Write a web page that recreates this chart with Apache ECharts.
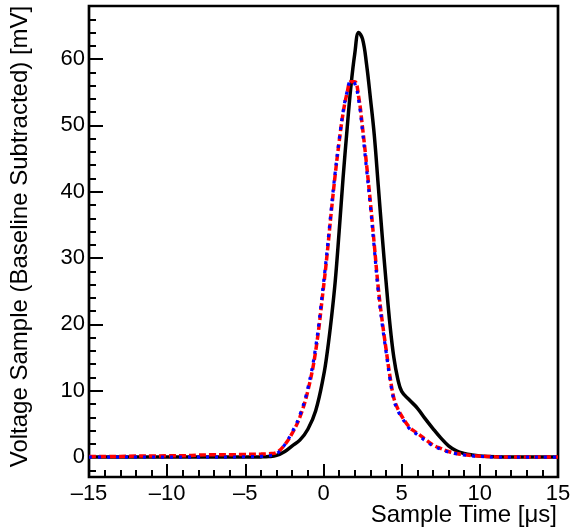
<!DOCTYPE html>
<html><head><meta charset="utf-8">
<script src="https://cdn.jsdelivr.net/npm/echarts@6/dist/echarts.min.js"></script>
<style>html,body{margin:0;padding:0;background:#fff}#c{width:583px;height:529px}</style>
</head><body><div id="c"></div>
<script>
// Sample time [µs]
const time = [-15,-14,-13,-12,-11,-10,-9,-8,-7,-6,-5,-4,-3.5,-3,-2.5,-2,-1.5,-1,-0.5,
  0,0.25,0.5,0.75,1,1.25,1.5,1.75,2,2.25,2.5,2.75,3,3.25,3.5,3.75,4,4.25,4.5,4.75,
  5,5.5,6,6.5,7,7.5,8,8.5,9,9.5,10,11,12,13,14,15];
// Black solid
const solidBlack = [0,0,0,0,0,0,0,0,0,0,0,0.03,0.08,0.25,0.8,1.7,2.6,4.2,7.0,
  12.2,16,20.8,26.5,34,42,49.2,55.8,60.8,64,63,59.3,54.1,48.5,41,33.5,26.5,20,15,11.8,
  9.9,8.6,7.4,5.8,4.3,2.9,1.7,0.95,0.55,0.32,0.18,0.05,0,0,0,0];
// Red dashed
const dashedRed = [0.1,0.1,0.1,0.15,0.15,0.2,0.2,0.3,0.35,0.35,0.4,0.45,0.5,0.7,1.8,3.6,6.1,10,16,
  25.6,31,37,42.6,47.5,51.8,54.8,56.6,56.6,54.3,49.6,44.2,38.4,32,25.6,20.6,16.3,12.2,8.9,7.3,
  6.2,4.5,3.6,2.7,1.85,1.3,0.85,0.55,0.38,0.22,0.15,0.05,0,0,0,0];
// Blue dotted
const dottedBlue = [0,0,0,0,0,0,0,0,0,0,0.05,0.1,0.2,0.5,1.8,3.8,6.4,10.4,16.6,
  26.2,31.6,37.5,43,47.8,52,55,56.7,56.3,53.8,49,43.5,37.8,31.4,25,20.1,15.9,11.8,8.6,7,
  6,4.3,3.4,2.5,1.7,1.2,0.75,0.5,0.32,0.18,0.1,0,0,0,0,0];
const yMajorTicks = [0,10,20,30,40,50,60];
const yMinorTicks = [-2,2,4,6,8,12,14,16,18,22,24,26,28,32,34,36,38,42,44,46,48,52,54,56,58,62,64,66];

const pairs = ys => time.map((t,i) => [t, ys[i]]);
const FONT = 'Liberation Sans';
const chart = echarts.init(document.getElementById('c'), null, {renderer:'canvas'});
chart.setOption({
  animation: false,
  backgroundColor: '#fff',
  grid: {left: 89, right: 25, top: 6, bottom: 52, show: true, borderColor: '#000', borderWidth: 2.7,
    backgroundColor: 'transparent', containLabel: false, outerBoundsMode: 'none'},
  xAxis: {
    type: 'value', min: -15, max: 15, interval: 5,
    axisLine: {show: false, onZero: false},
    axisTick: {show: true, inside: true, length: 13, lineStyle: {color: '#000', width: 2}},
    minorTick: {show: true, splitNumber: 5, length: 7, lineStyle: {color: '#000', width: 2}},
    splitLine: {show: false}, minorSplitLine: {show: false},
    axisLabel: {color: '#000', fontFamily: FONT, fontSize: 22, margin: 6,
      formatter: v => v < 0 ? '\u2013' + Math.abs(v) : String(v)},
    name: 'Sample Time [\u03bcs]', nameLocation: 'end', nameGap: -1, nameMoveOverlap: false,
    nameTextStyle: {color: '#000', fontFamily: FONT, fontSize: 24, align: 'right', verticalAlign: 'top', padding: [26, 0, 0, 0]}
  },
  yAxis: [{
    type: 'value', min: -3, max: 68, position: 'left',
    axisLine: {show: false, onZero: false},
    axisTick: {show: true, inside: true, length: 14, customValues: yMajorTicks, lineStyle: {color: '#000', width: 2}},
    axisLabel: {color: '#000', fontFamily: FONT, fontSize: 22, margin: 4, customValues: yMajorTicks},
    splitLine: {show: false},
    name: 'Voltage Sample (Baseline Subtracted) [mV]', nameLocation: 'middle', nameGap: 57, nameRotate: 90,
    nameMoveOverlap: false,
    nameTextStyle: {color: '#000', fontFamily: FONT, fontSize: 24, padding: [0, 0, 0, 10]}
  }, {
    type: 'value', min: -3, max: 68, position: 'left',
    axisLine: {show: false, onZero: false},
    axisTick: {show: true, inside: true, length: 7, customValues: yMinorTicks, lineStyle: {color: '#000', width: 2}},
    axisLabel: {show: false}, splitLine: {show: false}
  }],
  series: [
    {type: 'line', data: pairs(solidBlack), showSymbol: false, smooth: 0.4,
     lineStyle: {color: '#000', width: 3.5}, z: 2},
    {type: 'line', data: pairs(dashedRed), showSymbol: false, smooth: 0.4,
     lineStyle: {color: '#ff0000', width: 3.5, type: [7, 3]}, z: 3},
    {type: 'line', data: pairs(dottedBlue), showSymbol: false, smooth: 0.4,
     lineStyle: {color: '#0000ff', width: 3.2, type: [3, 6]}, z: 4}
  ]
});
</script></body></html>
